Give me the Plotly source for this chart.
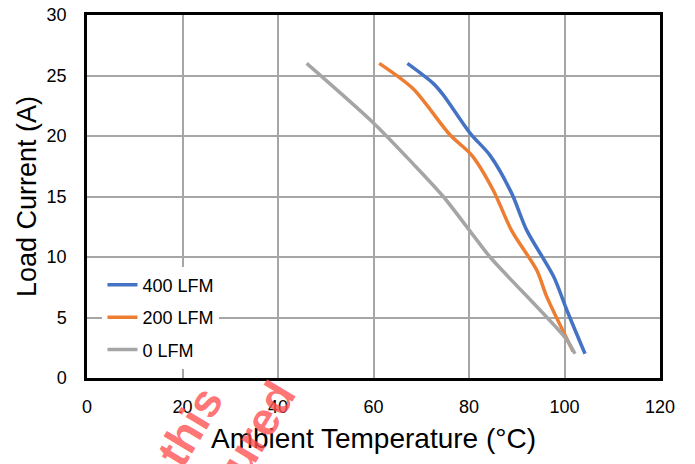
import plotly.graph_objects as go

temp_400 = [67.1, 72.5, 74.6, 80.3, 84.4, 88.9, 92.1, 97.7, 100.5, 104.3]
curr_400 = [26.0, 24.35, 23.4, 20.2, 18.4, 15.3, 12.2, 8.4, 5.6, 2.0]

temp_200 = [61.2, 68.3, 76.0, 80.6, 85.1, 88.9, 94.2, 96.3, 101.8]
curr_200 = [26.0, 23.9, 20.1, 18.4, 15.5, 12.2, 8.9, 6.7, 2.2]

temp_0 = [46.0, 60.2, 68.3, 74.6, 80.3, 84.4, 100.2, 102.2]
curr_0 = [26.0, 21.0, 17.7, 15.0, 12.1, 10.0, 3.3, 2.0]

names = ["400 LFM", "200 LFM", "0 LFM"]
colors = ["#4472C4", "#ED7D31", "#A5A5A5"]

FONT = "Liberation Sans, Arial, sans-serif"

fig = go.Figure()
for i, (xs, ys, n, c) in enumerate([(temp_400, curr_400, names[0], colors[0]),
                                    (temp_200, curr_200, names[1], colors[1]),
                                    (temp_0, curr_0, names[2], colors[2])]):
    fig.add_trace(go.Scatter(x=xs, y=ys, name=n, mode="lines", legendgroup=f"g{i}",
                             line=dict(color=c, width=3.5, shape="spline", smoothing=0.8)))

axis_common = dict(showline=True, linecolor="black", linewidth=2.5, mirror=True,
                   showgrid=True, gridcolor="#A6A6A6", gridwidth=1.5,
                   zeroline=False, ticks="", automargin=False,
                   ticklabeloverflow="allow",
                   tickfont=dict(family=FONT, size=18, color="black"))

fig.update_xaxes(range=[0, 120], dtick=20, tick0=0,
                 title=dict(text="Ambient Temperature (°C)", font=dict(family=FONT, size=28, color="black"), standoff=13),
                 ticklabelstandoff=11, **axis_common)
fig.update_yaxes(range=[0, 30], dtick=5, tick0=0,
                 title=dict(text="Load Current (A)", font=dict(family=FONT, size=27, color="black"), standoff=3),
                 ticklabelstandoff=14, **axis_common)

# page body has an 8px margin; size the figure so the plot area lands where the reference has it
fig.update_layout(
    width=687, height=456,
    margin=dict(l=79, r=35, t=7, b=86),
    paper_bgcolor="white", plot_bgcolor="white",
    showlegend=True,
    legend=dict(x=0.027, y=0.307, xanchor="left", yanchor="top",
                bgcolor="white", borderwidth=0,
                font=dict(family=FONT, size=18, color="black"),
                itemwidth=30, tracegroupgap=6),
)

# watermark fragments (positions given in page pixels)
W, H = 573, 363
def px(xp): return (xp - 87) / W
def py(yp): return (378 - yp) / H
for txt, cx, cy in [("this", 190, 426), ("ured", 258, 428)]:
    fig.add_annotation(text=f"<b>{txt}</b>", xref="paper", yref="paper",
                       x=px(cx), y=py(cy), xanchor="center", yanchor="middle",
                       showarrow=False, textangle=-59,
                       font=dict(family=FONT, size=46,
                                 color="rgba(255,80,80,0.8)"))

fig.write_html("out.html")
